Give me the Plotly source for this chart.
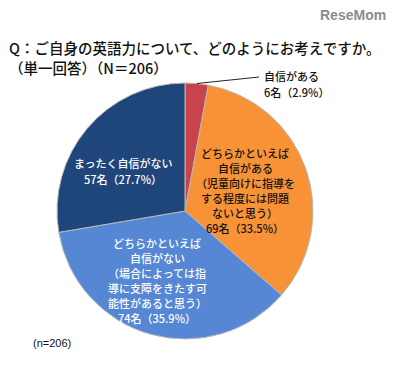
import plotly.graph_objects as go

W, H = 396, 368

categories = ["自信がある", "どちらかといえば自信がある", "どちらかといえば自信がない", "まったく自信がない"]
counts = [6, 69, 74, 57]
percents = [2.9, 33.5, 35.9, 27.7]
notes = [[], ["（児童向けに指導を", "する程度には問題", "ないと思う）"],
         ["（場合によっては指", "導に支障をきたす可", "能性があると思う）"], []]
colors = ["#C8444D", "#F89237", "#5587D5", "#1F467B"]
title_lines = ["Q：ご自身の英語力について、どのようにお考えですか。", "（単一回答）（N＝206）"]
n_total = 206

FONT = "Noto Sans CJK JP"

def px(x):
    return x / W

def py(y):
    return 1 - y / H

fig = go.Figure()
fig.add_trace(go.Pie(
    labels=categories,
    values=counts,
    sort=False,
    direction="clockwise",
    rotation=0,
    marker=dict(colors=colors, line=dict(color="#B8B8B8", width=1)),
    textinfo="none",
    hoverinfo="label+value+percent",
    showlegend=False,
    domain=dict(x=[px(57), px(313)], y=[py(339), py(83)]),
))

def lines_for(i):
    name = categories[i]
    out = []
    if name.startswith("どちらかといえば"):
        out += ["どちらかといえば", name[len("どちらかといえば"):]]
    else:
        out.append(name)
    out += notes[i]
    out.append(f"{counts[i]}名（{percents[i]}%）")
    return out

annos = []

def add_block(lines, x, y0, step, color, anchor="center"):
    for k, t in enumerate(lines):
        annos.append(dict(x=px(x), y=py(y0 + k * step), xref="paper", yref="paper",
                          xanchor=anchor, yanchor="middle", text=t, showarrow=False,
                          font=dict(family=FONT, size=11, color=color, weight=500)))

add_block(lines_for(0), 262, 76, 16, "#111111", anchor="left")
add_block(lines_for(1), 245, 153, 15, "#111111")
add_block(lines_for(2), 157, 243, 15, "#FFFFFF")
add_block(lines_for(3), 123, 163, 16, "#FFFFFF")

# title
annos.append(dict(x=px(7), y=py(47), xref="paper", yref="paper", xanchor="left", yanchor="middle",
                  text=title_lines[0], showarrow=False,
                  font=dict(family=FONT, size=14.5, color="#111111", weight=500)))
annos.append(dict(x=px(7), y=py(68), xref="paper", yref="paper", xanchor="left", yanchor="middle",
                  text=title_lines[1], showarrow=False,
                  font=dict(family=FONT, size=14.5, color="#111111", weight=500)))
annos.append(dict(x=px(31), y=py(343), xref="paper", yref="paper", xanchor="left", yanchor="middle",
                  text=f"(n={n_total})", showarrow=False,
                  font=dict(family="Liberation Sans", size=11, color="#111111")))
annos.append(dict(x=px(388), y=py(15), xref="paper", yref="paper", xanchor="right", yanchor="middle",
                  text="<b>ReseMom</b>", showarrow=False,
                  font=dict(family="Liberation Sans", size=14, color="#8C8C8C")))

fig.update_layout(
    width=W, height=H,
    margin=dict(l=0, r=0, t=0, b=0),
    paper_bgcolor="white", plot_bgcolor="white",
    annotations=annos,
    shapes=[dict(type="line", xref="paper", yref="paper",
                 x0=px(197), y0=py(83.5), x1=px(259), y1=py(77),
                 line=dict(color="#222222", width=1))],
)

fig.write_html("out.html", config={"displayModeBar": False},
               post_script="document.body.style.margin='0';document.body.style.overflow='hidden';")
